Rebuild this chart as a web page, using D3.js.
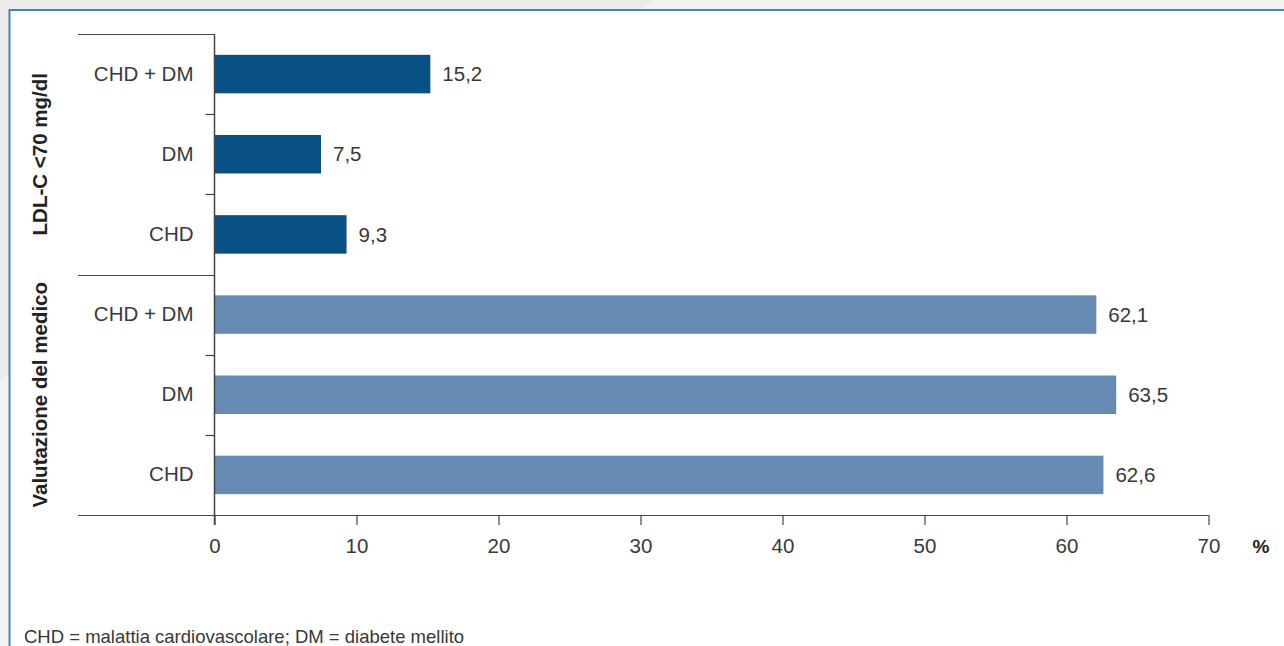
<!DOCTYPE html>
<meta charset="utf-8">
<style>
body { margin: 0; background: #fff; }
svg { display: block; font-family: "Liberation Sans", Arial, sans-serif; }
.tick text { fill: #3a3a3a; }
</style>
<body>
<script src="https://d3js.org/d3.v7.min.js"></script>
<script>

// data
var groups = ["LDL-C <70 mg/dl", "Valutazione del medico"];
var categories = ["CHD + DM", "DM", "CHD"];
var ldlValues = [15.2, 7.5, 9.3];
var medicoValues = [62.1, 63.5, 62.6];
var xTicks = [0, 10, 20, 30, 40, 50, 60, 70];
var footnote = "CHD = malattia cardiovascolare; DM = diabete mellito";

var W = 1284, H = 646;
var plotLeft = 214.5, plotRight = 1208.5, plotTop = 34, plotBottom = 515;
var fs = "20.5px";

// one row per bar
var rows = [];
ldlValues.forEach(function(v, i) { rows.push({id: "a" + i, group: 0, cat: categories[i], value: v}); });
medicoValues.forEach(function(v, i) { rows.push({id: "b" + i, group: 1, cat: categories[i], value: v}); });

var x = d3.scaleLinear().domain([0, 70]).range([plotLeft, plotRight]);
var y = d3.scaleBand()
    .domain(rows.map(function(d) { return d.id; }))
    .range([plotTop, plotBottom])
    .paddingInner(0.52)
    .paddingOuter(0.26);

var svg = d3.select("body").append("svg")
    .attr("width", W)
    .attr("height", H);

// background + panel
svg.append("rect").attr("width", W).attr("height", H).attr("fill", "#f2f2f2");
svg.append("polygon").attr("points", "0,0 655,0 0,380").attr("fill", "#ebebeb");
svg.append("rect")
    .attr("x", 9.5).attr("y", 10)
    .attr("width", W).attr("height", H)
    .attr("fill", "#fff")
    .attr("stroke", "#4a82b5")
    .attr("stroke-width", 2);

var ink = "#383838";

// bars
svg.selectAll(".bar")
    .data(rows)
  .enter().append("rect")
    .attr("class", "bar")
    .attr("x", x(0))
    .attr("y", function(d) { return y(d.id); })
    .attr("width", function(d) { return x(d.value) - x(0); })
    .attr("height", y.bandwidth())
    .attr("fill", function(d) { return d.group === 0 ? "#075185" : "#658ab4"; });

// values
svg.selectAll(".val")
    .data(rows)
  .enter().append("text")
    .attr("class", "val")
    .attr("x", function(d) { return x(d.value) + 12; })
    .attr("y", function(d) { return y(d.id) + y.bandwidth() / 2; })
    .attr("dy", "0.35em")
    .style("font-size", fs)
    .attr("fill", ink)
    .text(function(d) { return d3.format(".1f")(d.value).replace(".", ","); });

// y axis labels
var yAxis = svg.append("g")
    .attr("transform", "translate(" + x(0) + ",0)")
    .call(d3.axisLeft(y).tickSize(0).tickPadding(21)
      .tickFormat(function(id) { return rows.find(function(r) { return r.id === id; }).cat; }));
yAxis.select(".domain").remove();
yAxis.selectAll("text").style("font-size", fs).style("font-family", "Liberation Sans, Arial, sans-serif");

var lineColor = "#444";
var step = y.step();

// vertical axis line
svg.append("line")
    .attr("x1", x(0)).attr("x2", x(0))
    .attr("y1", plotTop).attr("y2", plotBottom + 10)
    .attr("stroke", lineColor).attr("stroke-width", 1.5);

// small ticks between bars inside a group, long lines at group edges
rows.forEach(function(d, i) {
  if (i === 0) return;
  var yy = Math.round(y(d.id) - step * 0.26) + 0.5;
  var long = rows[i - 1].group !== d.group;
  svg.append("line")
      .attr("x1", long ? 78 : x(0) - 9).attr("x2", x(0))
      .attr("y1", yy).attr("y2", yy)
      .attr("stroke", lineColor).attr("stroke-width", 1.2);
});
svg.append("line")
    .attr("x1", 78).attr("x2", x(0))
    .attr("y1", plotTop + 0.5).attr("y2", plotTop + 0.5)
    .attr("stroke", lineColor).attr("stroke-width", 1.2);

// x axis
var xAxis = svg.append("g")
    .attr("transform", "translate(0," + plotBottom + ")")
    .call(d3.axisBottom(x).tickValues(xTicks).tickSize(10).tickSizeOuter(0).tickPadding(13));
xAxis.select(".domain").remove();
xAxis.selectAll("line").attr("stroke", lineColor).attr("stroke-width", 1.2);
xAxis.selectAll("text").style("font-size", fs).style("font-family", "Liberation Sans, Arial, sans-serif");
svg.append("line")
    .attr("x1", 78).attr("x2", x(70))
    .attr("y1", plotBottom + 0.5).attr("y2", plotBottom + 0.5)
    .attr("stroke", lineColor).attr("stroke-width", 1.2);

// percent sign
svg.append("text")
    .attr("x", 1261).attr("y", 553)
    .attr("text-anchor", "middle")
    .style("font-size", "19px").style("font-weight", "bold")
    .attr("fill", "#222")
    .text("%");

// group titles
groups.forEach(function(g, gi) {
  var ids = rows.filter(function(r) { return r.group === gi; }).map(function(r) { return r.id; });
  var cy = (y(ids[0]) + y(ids[ids.length - 1]) + y.bandwidth()) / 2;
  svg.append("text")
      .attr("transform", "translate(47," + cy + ") rotate(-90)")
      .attr("text-anchor", "middle")
      .style("font-size", "20.5px").style("font-weight", "bold")
      .attr("fill", "#222")
      .text(g);
});

// footnote
svg.append("text")
    .attr("x", 24).attr("y", 643)
    .style("font-size", "18.5px")
    .attr("fill", ink)
    .text(footnote);

</script>
</body>
